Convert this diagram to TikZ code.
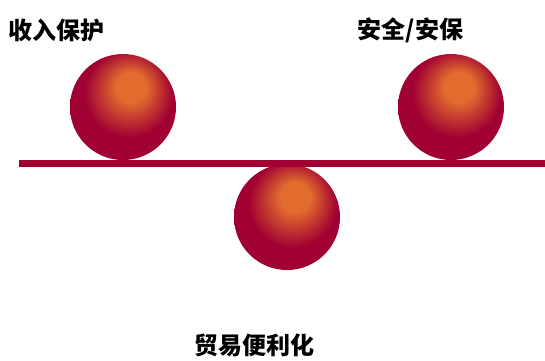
\documentclass[tikz,border=0pt]{standalone}
\usepackage{fontspec}
\newfontfamily\cjk{Noto Sans CJK SC}
\definecolor{balldark}{RGB}{160,0,50}
\definecolor{ballglow}{RGB}{226,108,46}
\pgfdeclareradialshading{ballshade}{\pgfpoint{4.5bp}{11bp}}{%
  color(0bp)=(ballglow); color(7bp)=(ballglow);
  color(21bp)=(balldark); color(50bp)=(balldark)}
\tikzset{
  ball/.style={circle,minimum size=106pt,inner sep=0pt,shading=ballshade},
  lbl/.style={font=\cjk\bfseries\fontsize{24}{24}\selectfont,inner sep=0pt}
}
\begin{document}
\begin{tikzpicture}[x=1pt,y=-1pt]
\useasboundingbox (0,0) rectangle (545,360);

\node[ball] (left) at (123,107) {};
\node[ball] (right) at (451,107) {};
\node[ball] (mid) at (287,217) {};
\fill[balldark] (19,159.5) rectangle (545,166.5);

\node[lbl] (revenue) at (56.5,30) {收入保护};
\node[lbl] (security) at (410.5,30) {安全/安保};
\node[lbl] (trade) at (254.5,345) {贸易便利化};
\end{tikzpicture}
\end{document}
